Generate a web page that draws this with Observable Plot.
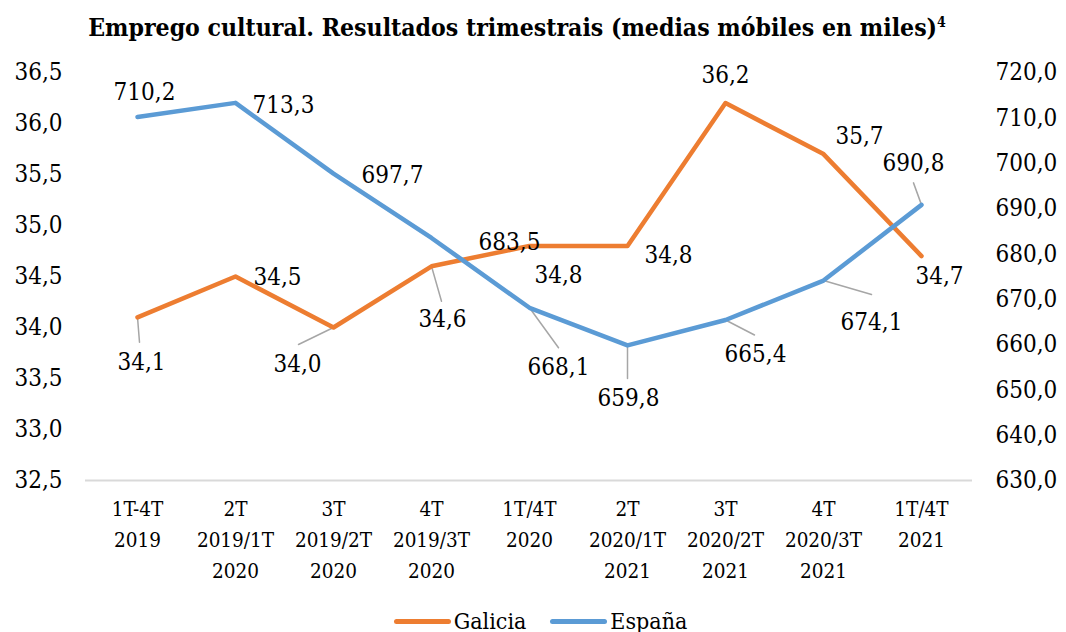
<!DOCTYPE html>
<html>
<head>
<meta charset="utf-8">
<script src="https://cdn.jsdelivr.net/npm/d3@7"></script>
<script src="https://cdn.jsdelivr.net/npm/@observablehq/plot@0.6"></script>
<style>
  html, body { margin: 0; padding: 0; background: #fff; }
  body { width: 1066px; height: 632px; overflow: hidden; position: relative; font-family: "DejaVu Serif Condensed", "DejaVu Serif", serif; color: #000; }
  #title { position: absolute; top: 0; left: 517px; transform: translateX(-50%); white-space: nowrap;
           font-family: "DejaVu Serif Condensed", "DejaVu Serif", serif; font-weight: bold; font-size: 24.6px; line-height: 28px; padding-top: 14px; }
  #title sup { font-size: 14px; vertical-align: 9px; line-height: 0; }
  #chart { position: absolute; top: 50px; left: 0; }
  #legend { position: absolute; top: 608px; left: 0; width: 1066px; display: flex; justify-content: center; align-items: center; font-size: 23px; line-height: 26px; padding-left: 15px; box-sizing: border-box; }
  .item { display: flex; align-items: center; margin: 0 12px; }
  .swatch { width: 57px; height: 5px; border-radius: 3px; margin-right: 3px; }
</style>
</head>
<body>
<div id="title">Emprego cultural. Resultados trimestrais (medias móbiles en miles)<sup>4</sup></div>
<div id="chart"></div>
<div id="legend"></div>
<script>
// ---- data ----
const categories = [
  "1T-4T\n2019",
  "2T\n2019/1T\n2020",
  "3T\n2019/2T\n2020",
  "4T\n2019/3T\n2020",
  "1T/4T\n2020",
  "2T\n2020/1T\n2021",
  "3T\n2020/2T\n2021",
  "4T\n2020/3T\n2021",
  "1T/4T\n2021"
];
const seriesNames = ["Galicia", "España"];
const galicia = [34.1, 34.5, 34.0, 34.6, 34.8, 34.8, 36.2, 35.7, 34.7];
const espana = [710.2, 713.3, 697.7, 683.5, 668.1, 659.8, 665.4, 674.1, 690.8];
const leftTicks = [32.5, 33.0, 33.5, 34.0, 34.5, 35.0, 35.5, 36.0, 36.5];
const rightTicks = [630, 640, 650, 660, 670, 680, 690, 700, 710, 720];

// ---- styling / label placement (pixel offsets from each point) ----
const FONT = "DejaVu Serif Condensed, DejaVu Serif, serif";
const colors = {Galicia: "#ED7D31", "España": "#5B9BD5"};
const galLabelOffsets = [[4,45],[42,1],[-36,37],[11,53],[29,29],[41,9],[0,-28],[36,-18],[18,20]];
const espLabelOffsets = [[7,-25],[48,2],[59,2],[78,4],[29,60],[1,53],[30,34],[48,42],[-8,-42]];
const galLeaders = {0: [2,25], 2: [-35,17], 3: [10,35]};
const espLeaders = {4: [29,40], 5: [0,33], 6: [29,15], 7: [48,14], 8: [-8,-22]};

// secondary axis mapping: España [630,720] -> Galicia scale [32.5,36.5]
const lDom = [leftTicks[0], leftTicks[leftTicks.length-1]];
const rDom = [rightTicks[0], rightTicks[rightTicks.length-1]];
const toL = v => lDom[0] + (v - rDom[0]) / (rDom[1] - rDom[0]) * (lDom[1] - lDom[0]);
const fromL = v => rDom[0] + (v - lDom[0]) / (lDom[1] - lDom[0]) * (rDom[1] - rDom[0]);
const fmt = v => v.toFixed(1).replace(".", ",");

const gal = categories.map((c, i) => ({cat: c, v: galicia[i], y: galicia[i], i}));
const esp = categories.map((c, i) => ({cat: c, v: espana[i], y: toL(espana[i]), i}));

const lineShape = { draw(context, l) { context.moveTo(0, 0); context.lineTo(0, -l); } };
function leaderMarks(data, leaders) {
  return Object.entries(leaders).map(([i, [vx, vy]]) =>
    Plot.vector([data[+i]], {
      x: "cat", y: "y", anchor: "start",
      length: Math.hypot(vx, vy),
      rotate: Math.atan2(vx, -vy) * 180 / Math.PI,
      shape: lineShape, stroke: "#a6a6a6", strokeWidth: 1.5
    }));
}
function labelMarks(data, offsets) {
  return data.map((d, i) => Plot.text([d], {
    x: "cat", y: "y", text: d => fmt(d.v),
    dx: offsets[i][0], dy: offsets[i][1], fontSize: 24, fontFamily: FONT, fill: "#000", lineAnchor: "middle"
  }));
}

const chart = Plot.plot({
  width: 1066, height: 560,
  marginTop: 22, marginBottom: 130, marginLeft: 85, marginRight: 94,
  style: {fontFamily: FONT, fontSize: "24px", color: "#000", background: "transparent"},
  x: {type: "point", domain: categories, axis: null, padding: 0.5},
  y: {domain: lDom, axis: null},
  marks: [
    Plot.ruleY([lDom[0]], {stroke: "#d9d9d9", strokeWidth: 2}),
    Plot.axisY(leftTicks, {anchor: "left", tickSize: 0, tickPadding: 23, tickFormat: fmt, fontSize: 24, fontFamily: FONT, label: null}),
    Plot.axisY(rightTicks.map(toL), {anchor: "right", tickSize: 0, tickPadding: 23, tickFormat: v => fmt(fromL(v)), fontSize: 24, fontFamily: FONT, label: null}),
    Plot.text(categories, {x: d => d, frameAnchor: "bottom", dy: 14, lineAnchor: "top", lineHeight: 1.5, fontSize: 20.5, fontFamily: FONT, fill: "#000"}),
    ...leaderMarks(gal, galLeaders),
    ...leaderMarks(esp, espLeaders),
    Plot.line(gal, {x: "cat", y: "y", stroke: colors.Galicia, strokeWidth: 4.5, strokeLinecap: "round", strokeLinejoin: "round"}),
    Plot.line(esp, {x: "cat", y: "y", stroke: colors["España"], strokeWidth: 4.5, strokeLinecap: "round", strokeLinejoin: "round"}),
    ...labelMarks(gal, galLabelOffsets),
    ...labelMarks(esp, espLabelOffsets)
  ]
});
document.getElementById("chart").appendChild(chart);

const legend = document.getElementById("legend");
seriesNames.forEach(name => {
  const item = document.createElement("div");
  item.className = "item";
  const sw = document.createElement("div");
  sw.className = "swatch";
  sw.style.background = colors[name];
  const label = document.createElement("span");
  label.textContent = name;
  item.appendChild(sw); item.appendChild(label);
  legend.appendChild(item);
});
</script>
</body>
</html>
